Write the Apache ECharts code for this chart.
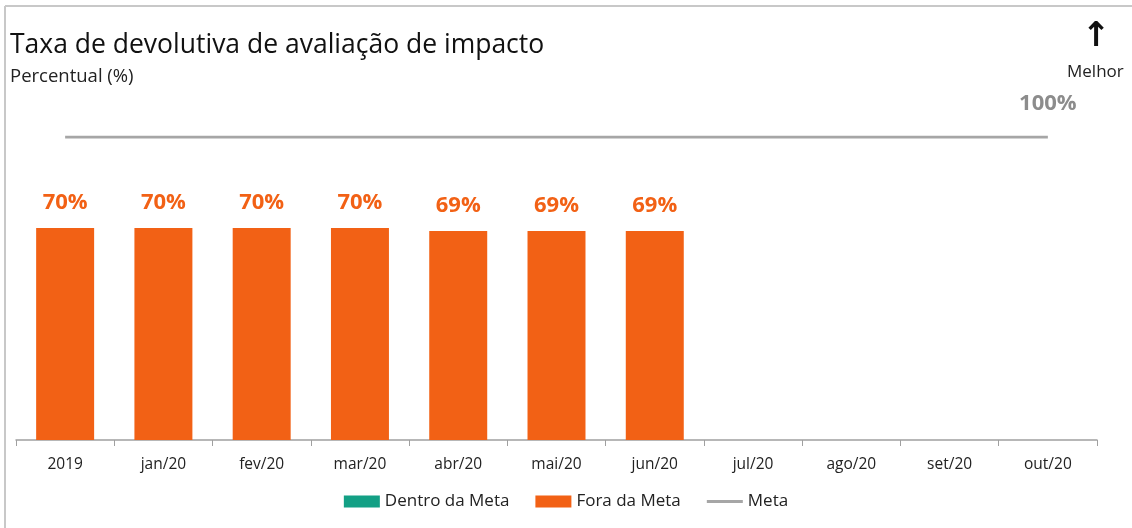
<!DOCTYPE html>
<html>
<head>
<meta charset="utf-8">
<script src="https://cdn.jsdelivr.net/npm/echarts@6/dist/echarts.min.js"></script>
<style>
  html, body { margin: 0; padding: 0; background: #fff; }
  #main { width: 1132px; height: 528px; }
</style>
</head>
<body>
<div id="main"></div>
<script>
// categorias e valores
var categorias = ['2019', 'jan/20', 'fev/20', 'mar/20', 'abr/20', 'mai/20', 'jun/20', 'jul/20', 'ago/20', 'set/20', 'out/20'];
var dentroDaMeta = ['-', '-', '-', '-', '-', '-', '-', '-', '-', '-', '-'];
var foraDaMeta = [70, 70, 70, 70, 69, 69, 69, '-', '-', '-', '-'];
var meta = [100, 100, 100, 100, 100, 100, 100, 100, 100, 100, 100];

var fonte = '"Open Sans", "Noto Sans", sans-serif';
var laranja = '#f26115';
var verde = '#13a085';
var cinza = '#a6a6a6';
var ultimo = categorias.length - 1;

var myChart = echarts.init(document.getElementById('main'));

var option = {
    animation: false,
    textStyle: { fontFamily: fonte },
    title: {
        text: 'Taxa de devolutiva de avaliação de impacto',
        subtext: 'Percentual (%)',
        left: 5,
        top: 27,
        itemGap: 8,
        textStyle: { fontFamily: fonte, fontSize: 26.5, fontWeight: 'normal', color: '#111' },
        subtextStyle: { fontFamily: fonte, fontSize: 18.5, color: '#222' }
    },
    legend: {
        bottom: 13,
        left: 'center',
        itemWidth: 36,
        itemHeight: 12,
        itemGap: 26,
        textStyle: { fontFamily: fonte, fontSize: 17, color: '#222' },
        data: [
            { name: 'Dentro da Meta', icon: 'rect' },
            { name: 'Fora da Meta', icon: 'rect' },
            { name: 'Meta', icon: 'path://M0,0 L36,0 L36,3 L0,3 Z' }
        ]
    },
    grid: {
        left: 16,
        right: 35,
        top: 137,
        bottom: 88,
        containLabel: false
    },
    xAxis: {
        type: 'category',
        data: categorias,
        axisLine: { lineStyle: { color: '#a0a0a0', width: 1.5 } },
        axisTick: { show: true, length: 6, lineStyle: { color: '#a0a0a0' } },
        axisLabel: { fontFamily: fonte, fontSize: 15.5, color: '#222', margin: 17 }
    },
    yAxis: {
        type: 'value',
        min: 0,
        max: 100,
        show: false,
        splitLine: { show: false }
    },
    graphic: [
        { type: 'line', shape: { x1: 5, y1: 6, x2: 1132, y2: 6 }, style: { stroke: '#c8c8c8', lineWidth: 2 } },
        { type: 'line', shape: { x1: 5, y1: 6, x2: 5, y2: 528 }, style: { stroke: '#c8c8c8', lineWidth: 2 } },
        { type: 'text', left: 1082, top: 20, style: { text: '↑', font: 'bold 34px "DejaVu Sans", sans-serif', fill: '#111' } },
        { type: 'text', left: 1067, top: 64, style: { text: 'Melhor', font: '17px ' + fonte, fill: '#222' } }
    ],
    series: [
        {
            name: 'Dentro da Meta',
            type: 'bar',
            stack: 'total',
            barWidth: '59%',
            itemStyle: { color: verde },
            data: dentroDaMeta
        },
        {
            name: 'Fora da Meta',
            type: 'bar',
            stack: 'total',
            barWidth: '59%',
            itemStyle: { color: laranja },
            label: {
                show: true,
                position: 'top',
                distance: 14,
                formatter: '{c}%',
                fontFamily: fonte,
                fontSize: 22,
                fontWeight: 'bold',
                color: laranja
            },
            data: foraDaMeta
        },
        {
            name: 'Meta',
            type: 'line',
            symbol: 'none',
            lineStyle: { color: cinza, width: 3 },
            itemStyle: { color: cinza },
            markPoint: {
                symbol: 'circle',
                symbolSize: 0,
                label: {
                    show: true,
                    position: 'top',
                    distance: 22,
                    fontFamily: fonte,
                    fontSize: 22,
                    fontWeight: 'bold',
                    color: '#8c8c8c',
                    formatter: '{c}%'
                },
                data: [{ coord: [ultimo, meta[ultimo]], value: meta[ultimo] }]
            },
            data: meta
        }
    ]
};

myChart.setOption(option);
</script>
</body>
</html>
